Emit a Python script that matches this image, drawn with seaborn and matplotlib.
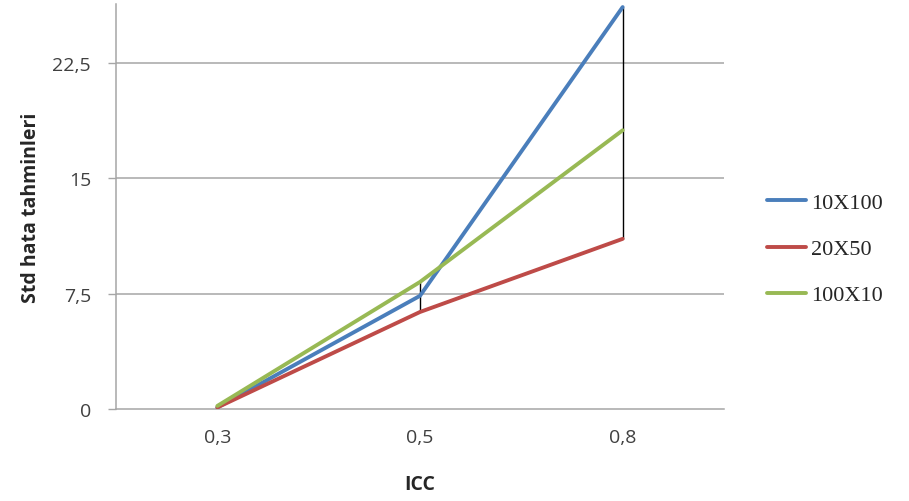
import numpy as np
import pandas as pd
import matplotlib
matplotlib.use("Agg")
import matplotlib.pyplot as plt
import seaborn as sns

categories = ["0,3", "0,5", "0,8"]
series_names = ["10X100", "20X50", "100X10"]
s_10x100 = [0.1, 7.35, 26.1]
s_20x50 = [0.1, 6.3, 11.05]
s_100x10 = [0.2, 8.25, 18.1]
yticks = [0, 7.5, 15, 22.5]
ytick_labels = ["0", "7,5", "15", "22,5"]
colors = ["#4A7EBB", "#BE4B48", "#98B954"]

sns.set_theme(style="white")
plt.rcParams['font.family'] = ['Open Sans', 'DejaVu Sans']

rows = []
for name, vals in zip(series_names, [s_10x100, s_20x50, s_100x10]):
    for i, v in enumerate(vals):
        rows.append({"x": i, "cat": categories[i], "y": v, "series": name})
df = pd.DataFrame(rows)

fig = plt.figure(figsize=(9.09, 5.02), dpi=100)
ax = fig.add_axes([116/909, (502-410)/502, (724-116)/909, (410-5)/502])

for y in yticks[1:]:
    ax.axhline(y, color="#A6A6A6", lw=1.1, zorder=0)

# high-low lines
allv = np.array([s_10x100, s_20x50, s_100x10])
ax.vlines(range(len(categories)), allv.min(axis=0), allv.max(axis=0),
          color="black", lw=1.0, zorder=1)

sns.lineplot(data=df, x="x", y="y", hue="series", palette=colors,
             hue_order=series_names, lw=2.8, ax=ax, legend=True, zorder=3)

ax.set_xlim(-0.5, 2.5)
ax.set_ylim(0, 26.3)
ax.set_xticks(range(len(categories)))
ax.set_xticklabels(categories)
ax.set_yticks(yticks)
ax.set_yticklabels(ytick_labels)
ax.tick_params(axis="y", length=6, color="#A6A6A6", width=1, direction="out",
               labelsize=14, labelcolor="#404040", pad=12, left=True)
ax.tick_params(axis="x", length=0, labelsize=14, labelcolor="#404040", pad=14)

for s in ["top", "right"]:
    ax.spines[s].set_visible(False)
ax.spines["left"].set_color("#A6A6A6")
ax.spines["bottom"].set_color("#A6A6A6")
ax.spines["left"].set_linewidth(1.1)
ax.spines["bottom"].set_linewidth(1.1)

ax.set_xlabel("ICC", fontsize=14, fontweight="bold", color="#262626", labelpad=20)
ax.set_ylabel("Std hata tahminleri", fontsize=14, fontweight="bold", color="#262626", labelpad=8)

handles, labels = ax.get_legend_handles_labels()
leg = ax.legend(handles, labels, loc="center left", bbox_to_anchor=(747/909, (502-250)/502),
                bbox_transform=fig.transFigure, frameon=False,
                prop={"family": "Liberation Serif", "size": 16},
                handlelength=1.75, labelspacing=1.15, handletextpad=0.25)
for line in leg.get_lines():
    line.set_linewidth(2.8)

fig.savefig("out.png", dpi=100)
